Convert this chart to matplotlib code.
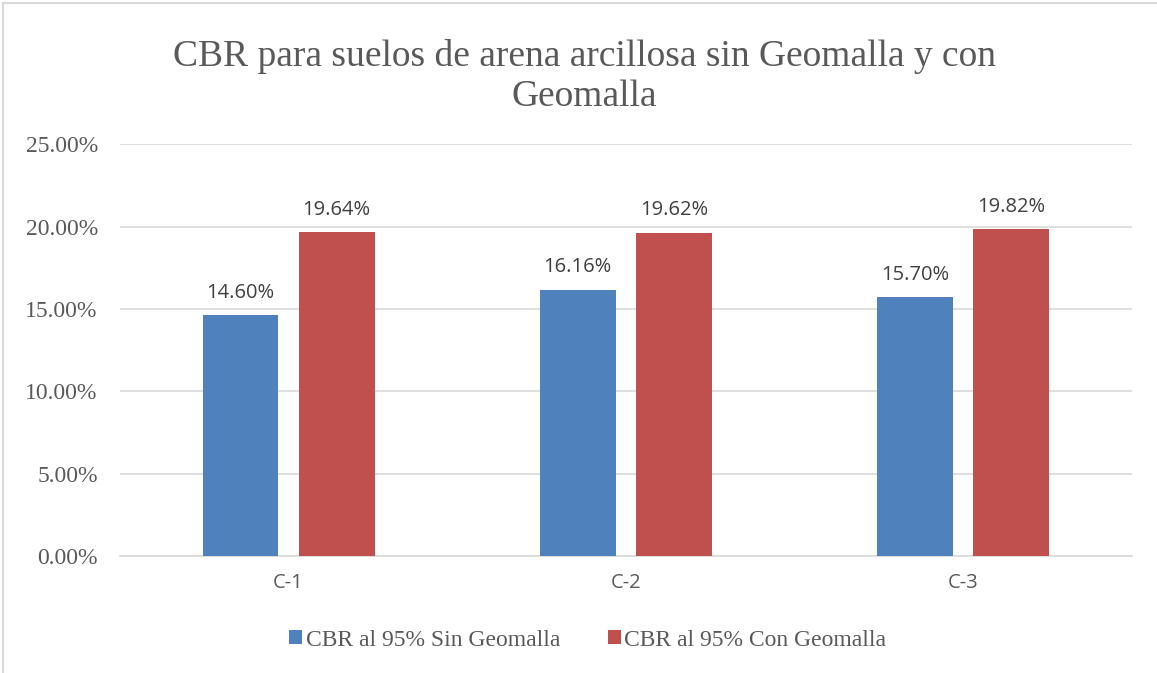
import matplotlib
matplotlib.use("Agg")
import matplotlib.pyplot as plt
import numpy as np
from matplotlib.lines import Line2D
from matplotlib.ticker import FuncFormatter

categories = ["C-1", "C-2", "C-3"]
sin_geomalla = [14.60, 16.16, 15.70]
con_geomalla = [19.64, 19.62, 19.82]
series_names = ["CBR al 95% Sin Geomalla", "CBR al 95% Con Geomalla"]
title = "CBR para suelos de arena arcillosa sin Geomalla y con\nGeomalla"

blue = "#4F81BD"
red = "#C0504D"
grid_c = "#D9D9D9"
text_c = "#595959"

fig = plt.figure(figsize=(11.57, 6.73), dpi=100)
ax = fig.add_axes([0.1037, 0.1738, 0.8743, 0.612])

x = np.arange(len(categories))
w = 0.225
off = 0.1425
b1 = ax.bar(x - off, sin_geomalla, w, color=blue, label=series_names[0], zorder=3)
b2 = ax.bar(x + off, con_geomalla, w, color=red, label=series_names[1], zorder=3)

for bars, vals in ((b1, sin_geomalla), (b2, con_geomalla)):
    for r, v in zip(bars, vals):
        ax.annotate(f"{v:.2f}%", (r.get_x() + r.get_width() / 2, v),
                    xytext=(0, 9), textcoords="offset points", ha="center", va="bottom",
                    fontsize=14.5, color="#404040", family="Open Sans")

ax.set_xlim(-0.5, 2.5)
ax.set_ylim(0, 25)
ax.set_yticks([0, 5, 10, 15, 20, 25])
ax.yaxis.set_major_formatter(FuncFormatter(lambda v, p: f"{v:.2f}%"))
ax.set_xticks(x)
ax.set_xticklabels(categories, family="Open Sans", fontsize=14.5, color=text_c)
for t in ax.get_yticklabels():
    t.set_family("Liberation Serif")
    t.set_fontsize(17)
    t.set_color(text_c)
ax.tick_params(axis="both", length=0)
ax.tick_params(axis="x", pad=12)
ax.tick_params(axis="y", pad=16)
ax.grid(axis="y", color=grid_c, linewidth=1.2, zorder=0)
for s in ["top", "right", "left"]:
    ax.spines[s].set_visible(False)
ax.spines["bottom"].set_color(grid_c)
ax.spines["bottom"].set_linewidth(1.2)

fig.suptitle(title, x=0.505, y=0.942, fontsize=27, family="Liberation Serif",
             color=text_c, linespacing=1.2)

leg = fig.legend(handles=[b1, b2], labels=series_names, loc="center", ncol=2,
                 bbox_to_anchor=(0.508, 0.049), frameon=False,
                 prop={"family": "Liberation Serif", "size": 17},
                 handlelength=0.55, handleheight=0.55, handletextpad=0.15, columnspacing=2.0)
for t in leg.get_texts():
    t.set_color(text_c)

fig.add_artist(Line2D([0.003, 1.0], [0.996, 0.996], transform=fig.transFigure, color="#D9D9D9", lw=1.5))
fig.add_artist(Line2D([0.003, 0.003], [0.0, 0.996], transform=fig.transFigure, color="#D9D9D9", lw=1.5))

fig.savefig("out.png", dpi=100)
